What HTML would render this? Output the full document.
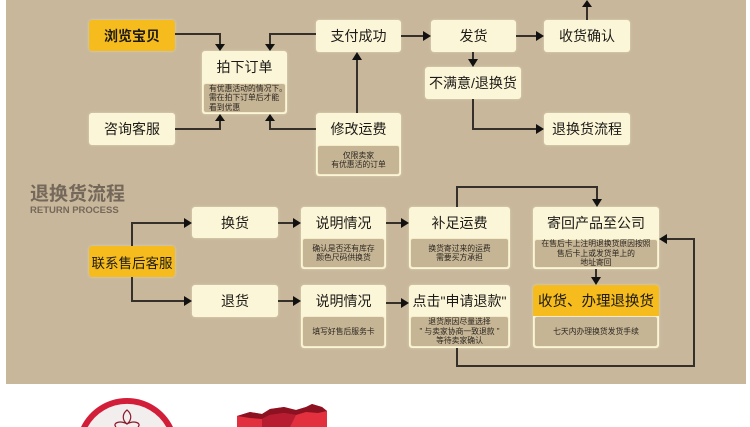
<!DOCTYPE html>
<html><head><meta charset="utf-8">
<style>
*{margin:0;padding:0;box-sizing:border-box}
html,body{width:750px;height:427px;overflow:hidden;background:#fff}
body{position:relative;font-family:"Liberation Sans","Noto Sans CJK SC",sans-serif;color:#1c1a16}
#bg{position:absolute;left:6px;top:0;width:740px;height:384px;background:#c8b79a}
.b{position:absolute;background:#fcf6d8;border-radius:3px;box-shadow:0 0 3px rgba(250,245,220,.45)}
.t{position:absolute;left:0;right:0;top:0;display:flex;align-items:center;justify-content:center;font-size:14px;white-space:nowrap;color:#1c1a16}
.y{background:#f6bb1c}
.s{position:absolute;left:1px;right:1px;bottom:1px;border:1.5px solid #f4ecc8;border-radius:3px;background:#c6b595;display:flex;align-items:center;justify-content:center;font-size:7.8px;line-height:9.5px;color:#2a2620;white-space:nowrap}
.s > div{text-align:center}
#h1{position:absolute;left:30px;top:185px;font-size:19px;line-height:20px;color:#74685a;font-weight:bold;white-space:nowrap}
#h2{position:absolute;left:30px;top:206px;font-size:9.5px;line-height:10px;color:#74685a;font-weight:bold;font-family:"Liberation Sans",sans-serif;white-space:nowrap}
svg{position:absolute;left:0;top:0;overflow:hidden}
</style></head><body>
<div id="bg"></div>

<!-- top section -->
<div class="b y" style="left:89px;top:20px;width:86px;height:31px"><div class="t" style="height:31px;font-weight:bold">浏览宝贝</div></div>
<div class="b" style="left:202px;top:51px;width:85px;height:63px"><div class="t" style="height:32px">拍下订单</div>
<div class="s" style="top:32px;justify-content:flex-start;padding-left:5px"><div style="text-align:left">有优惠活动的情况下。<br>需在拍下订单后才能<br>看到优惠</div></div></div>
<div class="b" style="left:89px;top:113px;width:86px;height:32px"><div class="t" style="height:32px">咨询客服</div></div>
<div class="b" style="left:316px;top:20px;width:85px;height:32px"><div class="t" style="height:32px">支付成功</div></div>
<div class="b" style="left:431px;top:20px;width:85px;height:32px"><div class="t" style="height:32px">发货</div></div>
<div class="b" style="left:544px;top:20px;width:86px;height:32px"><div class="t" style="height:32px">收货确认</div></div>
<div class="b" style="left:425px;top:67px;width:96px;height:32px"><div class="t" style="height:32px">不满意/退换货</div></div>
<div class="b" style="left:316px;top:113px;width:85px;height:63px"><div class="t" style="height:32px">修改运费</div>
<div class="s" style="top:32px"><div>仅限卖家<br>有优惠活的订单</div></div></div>
<div class="b" style="left:544px;top:113px;width:86px;height:32px"><div class="t" style="height:32px">退换货流程</div></div>

<div id="h1">退换货流程</div>
<div id="h2">RETURN PROCESS</div>

<!-- bottom section -->
<div class="b y" style="left:89px;top:246px;width:86px;height:31px"><div class="t" style="height:31px;font-size:13.5px">联系售后客服</div></div>
<div class="b" style="left:192px;top:207px;width:86px;height:31px"><div class="t" style="height:31px">换货</div></div>
<div class="b" style="left:192px;top:285px;width:86px;height:32px"><div class="t" style="height:32px">退货</div></div>

<div class="b" style="left:301px;top:207px;width:85px;height:62px"><div class="t" style="height:31px">说明情况</div>
<div class="s" style="top:31px"><div>确认是否还有库存<br>颜色尺码供换货</div></div></div>
<div class="b" style="left:409px;top:207px;width:101px;height:62px"><div class="t" style="height:31px">补足运费</div>
<div class="s" style="top:31px"><div>换货寄过来的运费<br>需要买方承担</div></div></div>
<div class="b" style="left:533px;top:207px;width:126px;height:62px"><div class="t" style="height:32px">寄回产品至公司</div>
<div class="s" style="top:32px"><div>在售后卡上注明退换货原因按照<br>售后卡上或发货单上的<br>地址寄回</div></div></div>

<div class="b" style="left:301px;top:285px;width:85px;height:63px"><div class="t" style="height:31px">说明情况</div>
<div class="s" style="top:31px"><div>填写好售后服务卡</div></div></div>
<div class="b" style="left:409px;top:285px;width:101px;height:63px"><div class="t" style="height:31px">点击"申请退款"</div>
<div class="s" style="top:31px"><div>退货原因尽量选择<br>" 与卖家协商一致退款 "<br>等待卖家确认</div></div></div>
<div class="b" style="left:533px;top:285px;width:126px;height:63px"><div class="t y" style="height:31px;border-radius:3px 3px 0 0;font-size:14.5px">收货、办理退换货</div>
<div class="s" style="top:31px"><div>七天内办理换货发货手续</div></div></div>

<svg width="750" height="427" viewBox="0 0 750 427">
<g fill="none" stroke="#36302a" stroke-width="2">
<path d="M175 34H220V45"/>
<path d="M316 34H270V45"/>
<path d="M175 129H220V120"/>
<path d="M316 129H270V120"/>
<path d="M357 113V58"/>
<path d="M401 36H424"/>
<path d="M516 36H537"/>
<path d="M587 20V6"/>
<path d="M473 52V60"/>
<path d="M473 99V129H537"/>
<path d="M132 246V223H185"/>
<path d="M132 277V301H185"/>
<path d="M278 223H294"/>
<path d="M278 301H294"/>
<path d="M386 223H402"/>
<path d="M386 303H402"/>
<path d="M457 207V187H597V200"/>
<path d="M596 269V278"/>
<path d="M457 348V366H694V239H666"/>
</g>
<g fill="#111">
<path d="M215 44H225L220 51Z"/>
<path d="M265 44H275L270 51Z"/>
<path d="M215 121H225L220 114Z"/>
<path d="M265 121H275L270 114Z"/>
<path d="M352 60H362L357 52Z"/>
<path d="M423 31V41L431 36Z"/>
<path d="M536 31V41L544 36Z"/>
<path d="M582 7H592L587 0Z"/>
<path d="M468 59H478L473 67Z"/>
<path d="M536 124V134L544 129Z"/>
<path d="M184 218V228L192 223Z"/>
<path d="M184 296V306L192 301Z"/>
<path d="M293 218V228L301 223Z"/>
<path d="M293 296V306L301 301Z"/>
<path d="M401 218V228L409 223Z"/>
<path d="M401 298V308L409 303Z"/>
<path d="M592 199H602L597 207Z"/>
<path d="M591 277H601L596 285Z"/>
<path d="M667 234V244L659 239Z"/>
</g>
<!-- bottom logos -->
<path d="M81 427A51 51 0 0 1 173 427Z" fill="#d21e38"/>
<path d="M87.7 427A45 45 0 0 1 166.3 427Z" fill="#f3eeee"/>
<g fill="none" stroke="#8a1a2a" stroke-width="1.2">
<path d="M127 410C122 414 122 420 127 424C132 420 132 414 127 410Z"/>
<path d="M127 424C120 420 112 423 116 427"/>
<path d="M127 424C134 420 142 423 138 427"/>
</g>
<path d="M237 416L250 412L262 414L270 409L284 407L296 410L306 407L312 404L322 407L327 411V427H237Z" fill="#e2303f"/>
<path d="M237 416L250 412L262 414L270 409L284 407L296 410L306 407L312 404L322 407L327 411L318 413L306 412L296 415L284 413L270 415L262 419L250 418Z" fill="#8c1222"/>
<path d="M262 419L270 415L284 413L296 415L290 427H262Z" fill="#b81c30"/>
</svg>
</body></html>
